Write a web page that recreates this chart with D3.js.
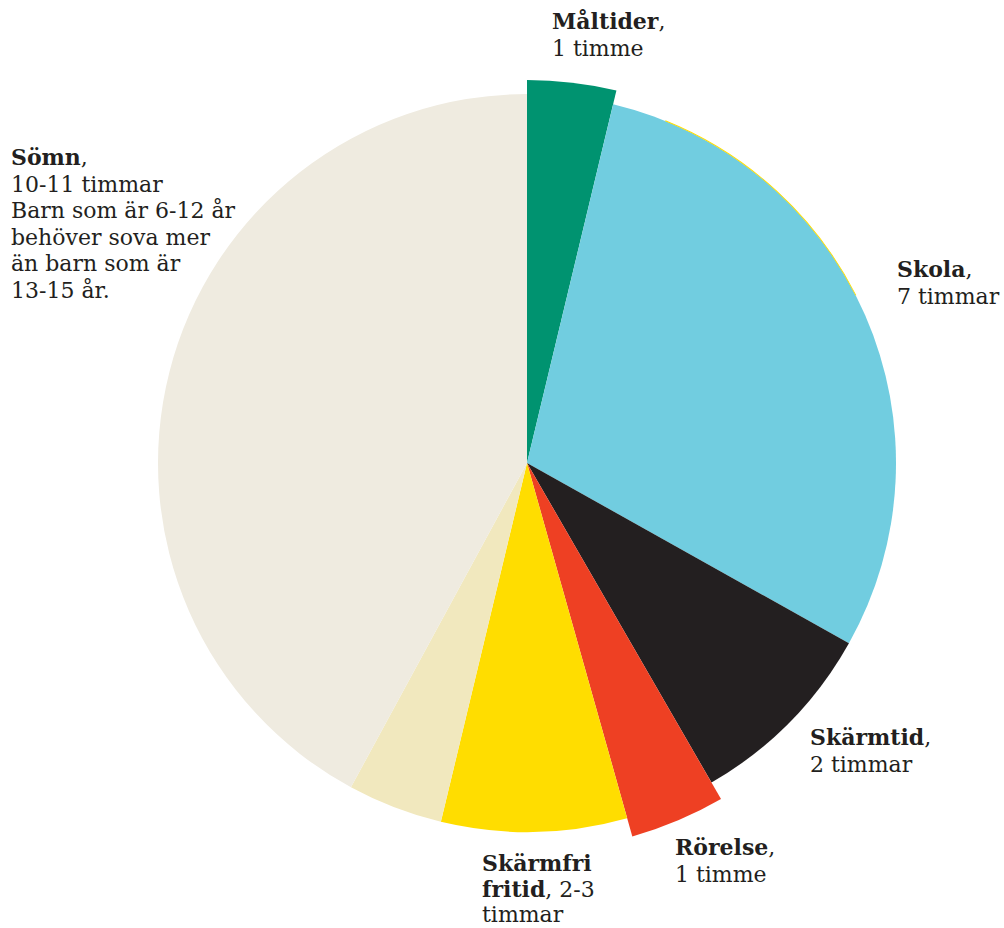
<!DOCTYPE html>
<html>
<head>
<meta charset="utf-8">
<script src="https://cdn.jsdelivr.net/npm/d3@7"></script>
<style>
  body { margin: 0; background: #fff; }
  text { font-family: "DejaVu Serif", serif; fill: #231f20; }
</style>
</head>
<body>
<div id="chart"></div>
<script>
// hours per day, clockwise from 12 o'clock
const categories = ["Måltider", "Skola", "Skärmtid", "Rörelse", "Skärmfri fritid", "Övrigt", "Sömn"];
const hours = [0.9, 7.05, 2.05, 0.95, 1.95, 1.0, 10.1];

// label lines: [bold part, normal part]
const labelLines = {
    "Måltider": [["Måltider", ","], ["", "1 timme"]],
    "Skola": [["Skola", ","], ["", "7 timmar"]],
    "Skärmtid": [["Skärmtid", ","], ["", "2 timmar"]],
    "Rörelse": [["Rörelse", ","], ["", "1 timme"]],
    "Skärmfri fritid": [["Skärmfri", ""], ["fritid", ", 2-3"], ["", "timmar"]],
    "Sömn": [["Sömn", ","], ["", "10-11 timmar"], ["", "Barn som är 6-12 år"],
             ["", "behöver sova mer"], ["", "än barn som är"], ["", "13-15 år."]]
};

const colors = {
    "Måltider": "#009370",
    "Skola": "#71cde0",
    "Skärmtid": "#231f20",
    "Rörelse": "#ee4023",
    "Skärmfri fritid": "#ffdd00",
    "Övrigt": "#f1e8be",
    "Sömn": "#efebe0"
};

const width = 1004, height = 928;
const cx = 527, cy = 463;
const radius = 369;
// a couple of slices stick out a bit
const extraRadius = {"Måltider": 14, "Rörelse": 19};

// where each label sits (left x, first baseline y, line step)
const labelPos = {
    "Måltider": [552, 29, 26.6],
    "Skola": [897, 277, 26.6],
    "Skärmtid": [810, 745, 26.6],
    "Rörelse": [675, 855, 26.6],
    "Skärmfri fritid": [482, 871, 25.5],
    "Sömn": [11, 165, 26.6]
};

const svg = d3.select("#chart").append("svg")
    .attr("width", width)
    .attr("height", height);

const g = svg.append("g")
    .attr("transform", "translate(" + cx + "," + cy + ")");

const pie = d3.pie()
    .sort(null)
    .value(d => d.value);

const data = categories.map((c, i) => ({name: c, value: hours[i]}));
const arcs = pie(data);

const arc = d3.arc()
    .innerRadius(0)
    .outerRadius(d => radius + (extraRadius[d.data.name] || 0));

g.selectAll("path.slice")
    .data(arcs)
    .join("path")
    .attr("class", "slice")
    .attr("d", arc)
    .attr("fill", d => colors[d.data.name]);

// thin yellow rim along part of the Skola edge
g.append("path")
    .attr("d", d3.arc()({
        innerRadius: radius - 0.3,
        outerRadius: radius + 0.6,
        startAngle: 22 * Math.PI / 180,
        endAngle: 63 * Math.PI / 180
    }))
    .attr("fill", "#ffdd00");

// labels
Object.keys(labelLines).forEach(name => {
    const [x, y, step] = labelPos[name];
    const t = svg.append("text")
        .attr("x", x)
        .attr("y", y)
        .attr("font-size", 22);
    labelLines[name].forEach((line, i) => {
        const first = t.append("tspan")
            .attr("x", x)
            .attr("y", y + i * step);
        if (line[0]) {
            first.attr("font-weight", "bold").text(line[0]);
            if (line[1]) t.append("tspan").text(line[1]);
        } else {
            first.text(line[1]);
        }
    });
});
</script>
</body>
</html>
